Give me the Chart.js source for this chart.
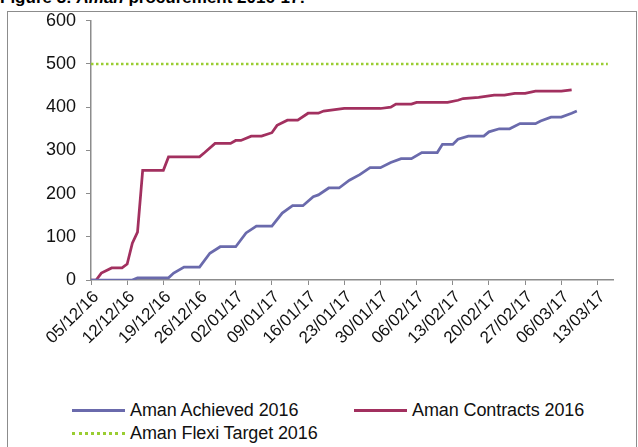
<!DOCTYPE html>
<html>
<head>
<meta charset="utf-8">
<script src="https://cdn.jsdelivr.net/npm/chart.js@4.4.0/dist/chart.umd.min.js"></script>
<style>
  body { margin: 0; background: #fff; font-family: "Liberation Sans", Arial, sans-serif; }
  #wrap { position: relative; width: 638px; height: 447px; overflow: hidden; }
  #title { position: absolute; left: 0; top: -11px; font-size: 17px; font-weight: bold; line-height: 18px; white-space: nowrap; color: #000; }
  #frame { position: absolute; left: 7px; top: 11px; width: 628px; height: 460px; border: 1px solid #8c8c8c; }
  #box { position: absolute; left: 0; top: 0; }
  .leg { position: absolute; font-size: 18px; color: #111; white-space: nowrap; letter-spacing: -0.1px; }
  .leg span.s { display: inline-block; vertical-align: middle; width: 53px; margin-right: 5px; position: relative; top: -1px; }
</style>
</head>
<body>
<div id="wrap">
  <div id="title">Figure 3: <i>Aman</i> procurement 2016-17:</div>
  <div id="frame"></div>
  <div id="box"><canvas id="myChart" width="638" height="362"></canvas></div>
  <div id="legend"></div>
</div>
<script>
// weekly tick labels (one every 7 days from 05/12/16)
var tickLabels = ["05/12/16", "12/12/16", "19/12/16", "26/12/16", "02/01/17", "09/01/17", "16/01/17",
  "23/01/17", "30/01/17", "06/02/17", "13/02/17", "20/02/17", "27/02/17", "06/03/17", "13/03/17"];

// days since 05/12/16 and values
var achievedDays = [0, 8, 9, 15, 16, 18, 21, 23, 25, 28, 30, 32, 35, 37, 39, 41, 43, 44, 46, 48, 50, 52, 54, 56,
  58, 60, 62, 64, 67, 68, 70, 71, 73, 76, 77, 79, 81, 83, 86, 87, 89, 91, 93, 94];
var achievedValues = [0, 0, 5, 5, 16, 30, 30, 62, 77, 77, 109, 125, 125, 155, 172, 172, 193, 197, 213, 213, 231, 244, 260, 260,
  272, 281, 281, 295, 295, 314, 314, 326, 333, 333, 343, 350, 350, 362, 362, 368, 377, 377, 386, 391];

var contractDays = [0, 1, 2, 4, 6, 7, 8, 9, 10, 14, 15, 21, 22, 24, 27, 28, 29, 31, 33, 35, 36, 38, 40, 42, 44, 45,
  49, 56, 58, 59, 62, 63, 69, 71, 72, 75, 78, 80, 82, 84, 86, 91, 93];
var contractValues = [0, 0, 16, 28, 28, 37, 85, 111, 254, 254, 285, 285, 295, 316, 316, 323, 323, 333, 333, 341, 358, 370, 370, 386, 386, 391,
  397, 397, 400, 407, 407, 411, 411, 416, 420, 423, 428, 428, 432, 432, 437, 437, 440];

var targetDays = [0, 100];
var targetValues = [500, 500];

var yTicks = [0, 100, 200, 300, 400, 500, 600];

function pts(days, vals) {
  return days.map(function (d, i) { return { x: d, y: vals[i] }; });
}

var series = [
  { label: "Aman Achieved 2016", data: pts(achievedDays, achievedValues), borderColor: "#6a6aac", borderWidth: 2.75, dash: [] },
  { label: "Aman Contracts 2016", data: pts(contractDays, contractValues), borderColor: "#a2305f", borderWidth: 2.75, dash: [] },
  { label: "Aman Flexi Target 2016", data: pts(targetDays, targetValues), borderColor: "#9acd32", borderWidth: 2.5, dash: [2.5, 2.5] }
];

var axisColor = "#8c8c8c";
var ctx = document.getElementById("myChart").getContext("2d");
var chart = new Chart(ctx, {
  type: "line",
  data: {
    datasets: series.map(function (s) {
      return {
        label: s.label,
        data: s.data,
        borderColor: s.borderColor,
        borderWidth: s.borderWidth,
        borderDash: s.dash,
        pointRadius: 0,
        tension: 0,
        fill: false
      };
    })
  },
  options: {
    responsive: false,
    animation: false,
    layout: { padding: { left: 0, right: 25, top: 14, bottom: 0 } },
    plugins: { legend: { display: false }, tooltip: { enabled: false } },
    scales: {
      x: {
        type: "linear",
        min: 0,
        max: 101,
        afterBuildTicks: function (scale) {
          scale.ticks = tickLabels.map(function (t, i) { return { value: i * 7 }; });
        },
        afterFit: function (scale) { scale.height = 82; },
        ticks: {
          autoSkip: false,
          maxRotation: 45,
          minRotation: 45,
          padding: 2,
          labelOffset: 5,
          color: "#111",
          font: { family: "Liberation Sans", size: 17 },
          callback: function (v) { return tickLabels[Math.round(v / 7)]; }
        },
        grid: { drawOnChartArea: false, drawTicks: true, tickLength: 5, color: axisColor },
        border: { color: axisColor, width: 1.5 }
      },
      y: {
        min: 0,
        max: 600,
        afterBuildTicks: function (scale) {
          scale.ticks = yTicks.map(function (v) { return { value: v }; });
        },
        afterFit: function (scale) { scale.width = 91; },
        ticks: {
          padding: 10,
          color: "#111",
          font: { family: "Liberation Sans", size: 18 }
        },
        grid: { drawOnChartArea: false, drawTicks: true, tickLength: 5, color: axisColor },
        border: { color: axisColor, width: 1.5 }
      }
    }
  }
});

// legend drawn as html text under the chart
var legendPos = [[72, 400], [354, 400], [72, 423]];
var legend = document.getElementById("legend");
series.forEach(function (s, i) {
  var el = document.createElement("div");
  el.className = "leg";
  el.style.left = legendPos[i][0] + "px";
  el.style.top = legendPos[i][1] + "px";
  var sample = document.createElement("span");
  sample.className = "s";
  sample.style.borderTop = (s.dash.length ? "3px dotted " : "3px solid ") + s.borderColor;
  el.appendChild(sample);
  el.appendChild(document.createTextNode(s.label));
  legend.appendChild(el);
});
</script>
</body>
</html>
